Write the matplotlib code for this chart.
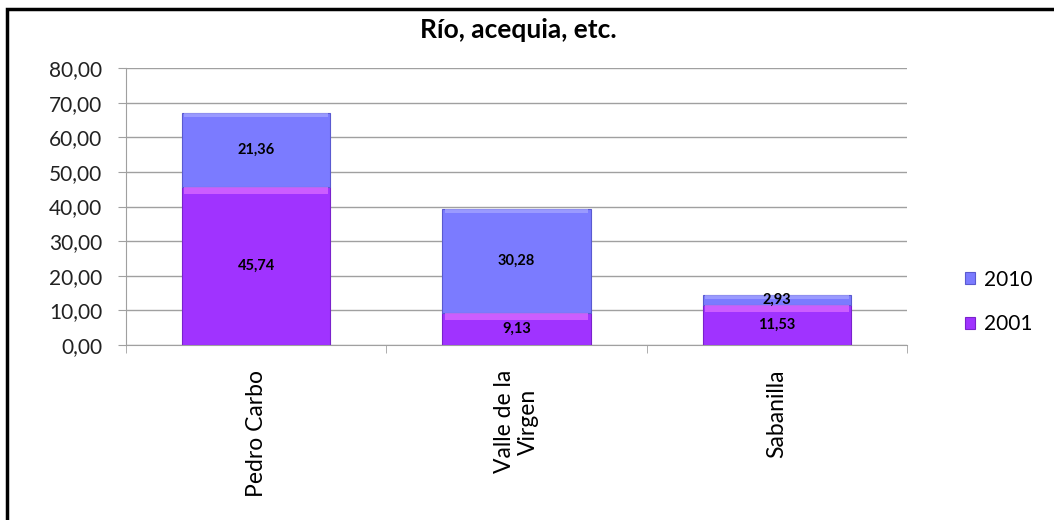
import numpy as np
import matplotlib.pyplot as plt
from matplotlib.patches import Rectangle

# Data
categories = ["Pedro Carbo", "Valle de la\nVirgen", "Sabanilla"]
vals_2001 = [45.74, 9.13, 11.53]
vals_2010 = [21.36, 30.28, 2.93]
yticks = [0, 10, 20, 30, 40, 50, 60, 70, 80]

col_2001 = "#A033FF"
col_2010 = "#7B7BFF"

plt.rcParams['font.family'] = ['Lato', 'DejaVu Sans']

fig = plt.figure(figsize=(10.54, 5.2), dpi=100)
ax = fig.add_axes([126/1054, 1 - 345/520, 781/1054, 277/520])

x = np.arange(len(categories))
w = 0.57
b1 = ax.bar(x, vals_2001, w, color=col_2001, edgecolor="#7A22CC", linewidth=0.8,
            label="2001", zorder=3)
b2 = ax.bar(x, vals_2010, w, bottom=vals_2001, color=col_2010, edgecolor="#5A5AD0",
            linewidth=0.8, label="2010", zorder=3)

# light bevel strip at the top of each segment
strip = 2.0
ax.bar(x, [strip] * 3, w * 0.97, bottom=np.array(vals_2001) - strip,
       color="#E070FF", alpha=0.7, linewidth=0, zorder=4)
ax.bar(x, [strip * 0.6] * 3, w * 0.97,
       bottom=np.array(vals_2001) + np.array(vals_2010) - strip * 0.6,
       color="#A8A8FF", alpha=0.7, linewidth=0, zorder=4)

for i in range(len(categories)):
    ax.text(x[i], vals_2001[i] / 2, f"{vals_2001[i]:.2f}".replace(".", ","),
            ha="center", va="center", fontsize=10.5, fontweight="bold", zorder=5)
    ax.text(x[i], vals_2001[i] + vals_2010[i] / 2, f"{vals_2010[i]:.2f}".replace(".", ","),
            ha="center", va="center", fontsize=10.5, fontweight="bold", zorder=5)

ax.set_xlim(-0.5, len(categories) - 0.5)
ax.set_ylim(0, 80)
ax.set_yticks(yticks)
ax.set_yticklabels([f"{v:.2f}".replace(".", ",") for v in yticks], fontsize=15,
                   color="#222222")
ax.yaxis.grid(True, color="#A0A0A0", linewidth=1, zorder=0)
ax.set_axisbelow(True)

ax.set_xticks(x)
ax.set_xticklabels(categories, rotation=90, fontsize=16.5, ha="center", va="top",
                   multialignment="center", linespacing=1.15)
ax.tick_params(axis="x", length=0, pad=18)
ax.set_xticks(np.arange(-0.5, len(categories)), minor=True)
ax.tick_params(axis="x", which="minor", length=6, color="#A0A0A0", direction="out")
ax.tick_params(axis="y", length=6, color="#A0A0A0", direction="out", pad=11)

for s in ["top", "right"]:
    ax.spines[s].set_visible(False)
for s in ["left", "bottom"]:
    ax.spines[s].set_color("#A0A0A0")

fig.text(518/1054, 1 - 30/520, "Río, acequia, etc.", ha="center", va="center",
         fontsize=19, fontweight="bold")

leg = fig.legend([b2, b1], ["2010", "2001"], loc="center left",
                 bbox_to_anchor=(965/1054, 1 - 302/520), frameon=False,
                 fontsize=15, handlelength=0.5, handleheight=0.5,
                 labelspacing=1.2, handletextpad=0.4, borderpad=0, borderaxespad=0)

# outer border (right and bottom edges fall outside the image)
fig.patches.append(Rectangle((7/1054, -0.05), 1.1, 1 - 9/520 + 0.05,
                             transform=fig.transFigure, fill=False,
                             edgecolor="black", linewidth=2.5))

fig.savefig("out.png", dpi=100)
